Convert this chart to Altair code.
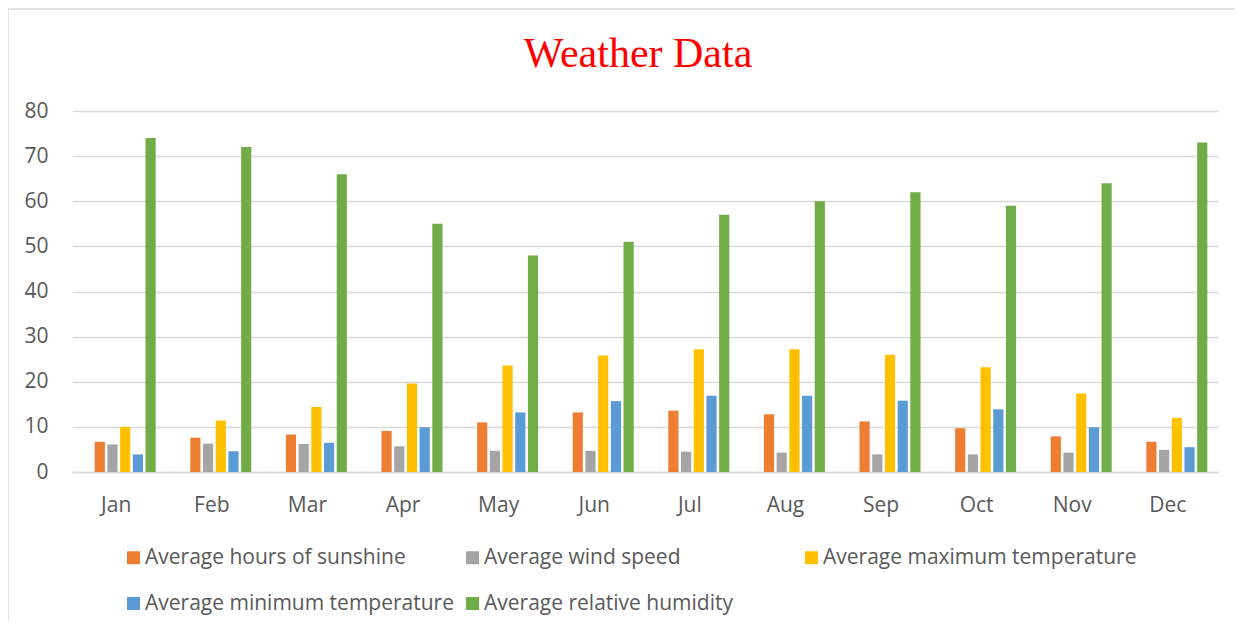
import altair as alt
import pandas as pd

months = ["Jan", "Feb", "Mar", "Apr", "May", "Jun", "Jul", "Aug", "Sep", "Oct", "Nov", "Dec"]
series = [
    "Average hours of sunshine",
    "Average wind speed",
    "Average maximum temperature",
    "Average minimum temperature",
    "Average relative humidity",
]
colors = ["#ED7D31", "#A5A5A5", "#FFC000", "#5B9BD5", "#70AD47"]

sunshine = [6.7, 7.6, 8.3, 9.1, 11.0, 13.2, 13.6, 12.8, 11.2, 9.7, 7.9, 6.7]
wind_speed = [6.1, 6.3, 6.2, 5.7, 4.7, 4.7, 4.5, 4.3, 3.9, 3.9, 4.3, 4.9]
max_temp = [10.0, 11.4, 14.4, 19.6, 23.6, 25.8, 27.2, 27.2, 26.0, 23.2, 17.4, 12.0]
min_temp = [3.9, 4.6, 6.5, 9.9, 13.2, 15.7, 16.9, 16.9, 15.8, 13.9, 9.9, 5.5]
humidity = [74, 72, 66, 55, 48, 51, 57, 60, 62, 59, 64, 73]
y_ticks = [0, 10, 20, 30, 40, 50, 60, 70, 80]

rows = []
for s, vals in zip(series, [sunshine, wind_speed, max_temp, min_temp, humidity]):
    for m, v in zip(months, vals):
        rows.append({"month": m, "series": s, "value": v})
df = pd.DataFrame(rows)

FONT = "Open Sans"
TXT = "#595959"
GRID = "#d9d9d9"

bars = alt.Chart(df).mark_bar().encode(
    x=alt.X(
        "month:N",
        sort=months,
        scale=alt.Scale(paddingInner=0.362, paddingOuter=0.1745, align=0.68),
        axis=alt.Axis(
            title=None, labelAngle=0, labelFont=FONT, labelFontSize=21,
            labelColor=TXT, labelPadding=22, labelOffset=-9, ticks=False,
            domainColor=GRID, domainWidth=1.5, grid=False,
        ),
    ),
    xOffset=alt.XOffset("series:N", sort=series, scale=alt.Scale(paddingInner=0.2)),
    y=alt.Y(
        "value:Q",
        scale=alt.Scale(domain=[0, 80]),
        axis=alt.Axis(
            values=y_ticks, title=None, domain=False, ticks=False,
            labelPadding=24, labelFont=FONT, labelFontSize=21, labelColor=TXT,
            gridColor=GRID, gridWidth=1.3,
        ),
    ),
    color=alt.Color(
        "series:N",
        sort=series,
        scale=alt.Scale(domain=series, range=colors),
        legend=alt.Legend(
            title=None, orient="none", legendX=51, legendY=436, columns=3,
            direction="horizontal", symbolType="square", symbolSize=169,
            symbolStrokeWidth=0, columnPadding=3, rowPadding=24,
            labelFontSize=21, labelFont=FONT, labelColor=TXT, labelLimit=400,
            labelOffset=1, gridAlign="all",
        ),
    ),
)

frame_data = pd.DataFrame({"k": [0]})
frame_left = alt.Chart(frame_data).mark_rule(color=GRID, strokeWidth=1.5).encode(
    x=alt.value(-64), y=alt.value(-102), y2=alt.value(520)
)
frame_top = alt.Chart(frame_data).mark_rule(color=GRID, strokeWidth=1.5).encode(
    x=alt.value(-64), x2=alt.value(1170), y=alt.value(-102)
)

chart = alt.layer(bars, frame_left, frame_top).properties(
    width=1146,
    height=361,
    title=alt.TitleParams(
        "Weather Data", font="Liberation Serif", fontSize=42, color="#FF0000",
        fontWeight="normal", anchor="middle", dx=-7, offset=0, dy=101,
        baseline="alphabetic",
    ),
    autosize=alt.AutoSizeParams(type="none"),
    padding={"left": 64, "top": 103, "right": 16, "bottom": 149},
).configure_view(stroke=None)

chart.save("out.html", embed_options={"renderer": "svg", "actions": False})
